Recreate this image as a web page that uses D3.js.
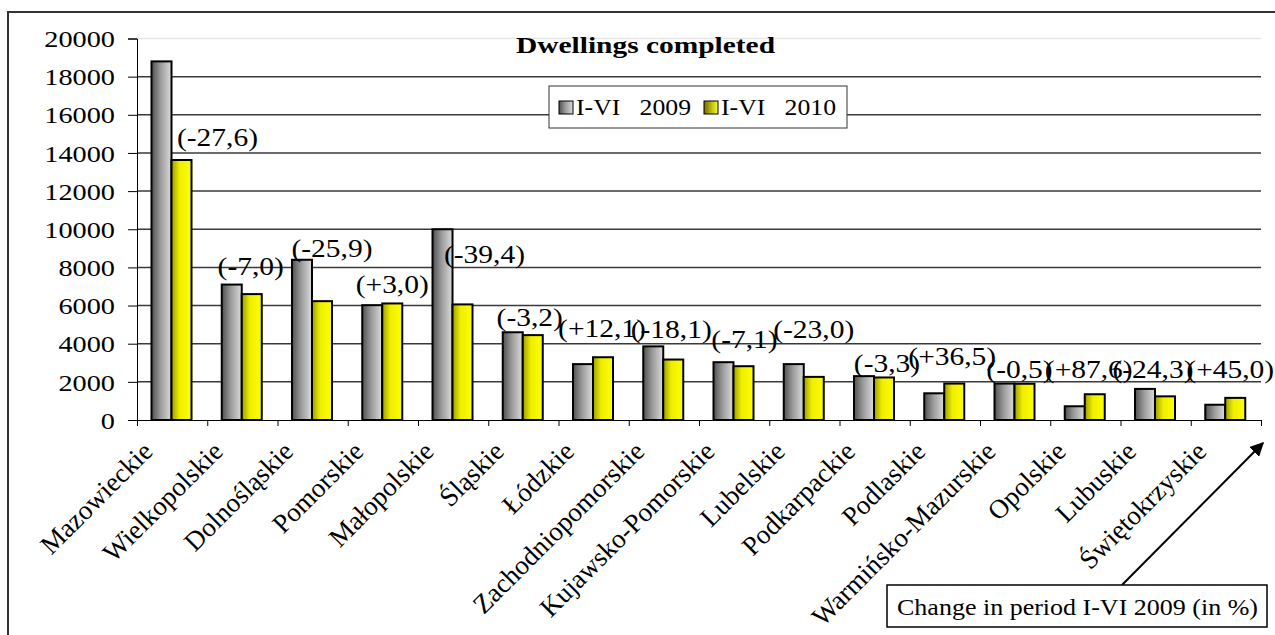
<!DOCTYPE html>
<html>
<head>
<meta charset="utf-8">
<script src="https://cdn.jsdelivr.net/npm/d3@7"></script>
<style>
  body { margin: 0; background: #fff; }
  text { font-family: "Liberation Serif", "Times New Roman", serif; fill: #000; }
</style>
</head>
<body>
<div id="chart"></div>
<script>
// data
var regions = ["Mazowieckie", "Wielkopolskie", "Dolnośląskie", "Pomorskie", "Małopolskie", "Śląskie",
    "Łódzkie", "Zachodniopomorskie", "Kujawsko-Pomorskie", "Lubelskie", "Podkarpackie", "Podlaskie",
    "Warmińsko-Mazurskie", "Opolskie", "Lubuskie", "Świętokrzyskie"];
var done2009 = [18800, 7100, 8400, 6020, 10000, 4600, 2930, 3860, 3030, 2930, 2300, 1400, 1910, 720, 1630, 800];
var done2010 = [13630, 6600, 6230, 6110, 6060, 4450, 3290, 3170, 2820, 2260, 2230, 1910, 1900, 1350, 1240, 1160];
var changes = ["(-27,6)", "(-7,0)", "(-25,9)", "(+3,0)", "(-39,4)", "(-3,2)", "(+12,1)", "(-18,1)",
    "(-7,1)", "(-23,0)", "(-3,3)", "(+36,5)", "(-0,5)", "(+87,6)", "(-24,3)", "(+45,0)"];
var seriesNames = ["I-VI   2009", "I-VI   2010"];
var yTicks = [0, 2000, 4000, 6000, 8000, 10000, 12000, 14000, 16000, 18000, 20000];

// hand moved labels (px nudges from the default spot above the 2010 bar)
var labelNudge = [[36, 0], [-1, -5], [10, -30], [0, 4], [22, -27], [-3, 5], [-1, -6], [-2, -8],
    [1, -4], [0, -25], [3, 9], [-2, -5], [-5, 8], [-6, -2], [-12, -4], [-5, -6]];

var svgWidth = 1275;
var svgHeight = 635;
var SX = 1.18; // horizontal text in the original is stretched sideways

var plot = { left: 137, right: 1261, top: 38.5, bottom: 420 };

var svg = d3.select("#chart").append("svg")
    .attr("width", svgWidth)
    .attr("height", svgHeight);

var defs = svg.append("defs");
function gradient(id, stops) {
    var g = defs.append("linearGradient").attr("id", id)
        .attr("x1", 0).attr("x2", 1).attr("y1", 0).attr("y2", 0);
    stops.forEach(function(s) {
        g.append("stop").attr("offset", s[0]).attr("stop-color", s[1]);
    });
}
gradient("gGrey", [[0, "#505050"], [0.45, "#9a9a9a"], [1, "#dcdcdc"]]);
gradient("gYellow", [[0, "#9c9c00"], [0.4, "#eeee00"], [1, "#ffff00"]]);
gradient("gYellowKey", [[0, "#6e6e00"], [1, "#ffff20"]]);

// outer frame
svg.append("rect")
    .attr("x", 8).attr("y", 12)
    .attr("width", svgWidth).attr("height", svgHeight)
    .attr("fill", "none").attr("stroke", "#333").attr("stroke-width", 2);

// scales
var x = d3.scaleBand().domain(regions).range([plot.left, plot.right]).padding(0);
var xSub = d3.scaleBand().domain(["2009", "2010"]).range([14.5, 54.5]).padding(0);
var xIdx = d3.scaleLinear().domain([0, regions.length]).range([plot.left, plot.right]);
var y = d3.scaleLinear().domain([0, 20000]).range([plot.bottom, plot.top]);

// gridlines
svg.append("g").selectAll("line")
    .data(yTicks.filter(function(d) { return d > 0; }))
    .enter().append("line")
    .attr("x1", plot.left).attr("x2", plot.right)
    .attr("y1", function(d) { return y(d); })
    .attr("y2", function(d) { return y(d); })
    .attr("stroke", function(d) { return d === 20000 ? "#e6e6e6" : "#3a3a3a"; })
    .attr("stroke-width", 1.5);

// y axis
var yAxis = svg.append("g")
    .attr("transform", "translate(" + plot.left + ",0)")
    .call(d3.axisLeft(y).tickValues(yTicks).tickSize(9).tickPadding(0).tickFormat(d3.format("d")));
yAxis.select(".domain").attr("stroke", "#000");
yAxis.selectAll(".tick line").attr("stroke", "#000");
yAxis.selectAll(".tick text")
    .attr("x", -22 / SX)
    .attr("dy", "0.34em")
    .attr("transform", "scale(" + SX + ",1)")
    .style("font-family", "Liberation Serif")
    .style("font-size", "24px");

// x axis, ticks between categories
var xAxis = svg.append("g")
    .attr("transform", "translate(0," + plot.bottom + ")")
    .call(d3.axisBottom(xIdx).tickValues(d3.range(regions.length + 1)).tickSize(6).tickFormat(""));
xAxis.select(".domain").attr("stroke", "#000");
xAxis.selectAll(".tick line").attr("stroke", "#000");

// bars
var groups = svg.append("g").selectAll("g")
    .data(regions)
    .enter().append("g")
    .attr("transform", function(d) { return "translate(" + x(d) + ",0)"; });

groups.append("rect")
    .attr("x", xSub("2009"))
    .attr("width", xSub.bandwidth())
    .attr("y", function(d, i) { return y(done2009[i]); })
    .attr("height", function(d, i) { return y(0) - y(done2009[i]); })
    .attr("fill", "url(#gGrey)")
    .attr("stroke", "#000").attr("stroke-width", 2);

groups.append("rect")
    .attr("x", xSub("2010"))
    .attr("width", xSub.bandwidth())
    .attr("y", function(d, i) { return y(done2010[i]); })
    .attr("height", function(d, i) { return y(0) - y(done2010[i]); })
    .attr("fill", "url(#gYellow)")
    .attr("stroke", "#000").attr("stroke-width", 2);

// change labels
svg.append("g").selectAll("text")
    .data(changes)
    .enter().append("text")
    .attr("transform", function(d, i) {
        var cx = x(regions[i]) + xSub("2010") + xSub.bandwidth() / 2 + labelNudge[i][0];
        var cy = y(done2010[i]) - 14 + labelNudge[i][1];
        return "translate(" + cx + "," + cy + ") scale(" + SX + ",1)";
    })
    .attr("text-anchor", "middle")
    .style("font-size", "25px")
    .text(function(d) { return d; });

// category labels, plain 45 degrees
svg.append("g").selectAll("text")
    .data(regions)
    .enter().append("text")
    .attr("transform", function(d) {
        var cx = x(d) + x.bandwidth() / 2 - 18;
        return "translate(" + cx + "," + (plot.bottom + 33) + ") rotate(-45)";
    })
    .attr("text-anchor", "end")
    .style("font-size", "27px")
    .text(function(d) { return d; });

// title
svg.append("text")
    .attr("x", 516).attr("y", 53)
    .attr("textLength", 259).attr("lengthAdjust", "spacingAndGlyphs")
    .style("font-size", "24px").style("font-weight", "bold")
    .text("Dwellings completed");

// legend
var legend = svg.append("g").attr("transform", "translate(549,86)");
legend.append("rect")
    .attr("width", 298).attr("height", 42)
    .attr("fill", "#fff").attr("stroke", "#333").attr("stroke-width", 1);
var keyFills = ["url(#gGrey)", "url(#gYellowKey)"];
seriesNames.forEach(function(name, i) {
    var lx = 10 + i * 145;
    legend.append("rect")
        .attr("x", lx).attr("y", 15).attr("width", 14).attr("height", 13)
        .attr("fill", keyFills[i]).attr("stroke", "#000").attr("stroke-width", 1);
    legend.append("text")
        .attr("x", lx + 17).attr("y", 29)
        .attr("textLength", 115).attr("lengthAdjust", "spacingAndGlyphs")
        .style("font-size", "24px").style("white-space", "pre")
        .text(name);
});

// note box + arrow
defs.append("marker")
    .attr("id", "arrow").attr("viewBox", "0 0 10 10")
    .attr("refX", 9).attr("refY", 5)
    .attr("markerWidth", 7).attr("markerHeight", 7)
    .attr("orient", "auto")
    .append("path").attr("d", "M0,0 L10,5 L0,10 z").attr("fill", "#000");

svg.append("line")
    .attr("x1", 1122).attr("y1", 585)
    .attr("x2", 1263).attr("y2", 443)
    .attr("stroke", "#000").attr("stroke-width", 2)
    .attr("marker-end", "url(#arrow)");

svg.append("rect")
    .attr("x", 887).attr("y", 585).attr("width", 380).attr("height", 42)
    .attr("fill", "#fff").attr("stroke", "#000").attr("stroke-width", 1.5);
svg.append("text")
    .attr("x", 897).attr("y", 615)
    .attr("textLength", 361).attr("lengthAdjust", "spacingAndGlyphs")
    .style("font-size", "24px")
    .text("Change in period I-VI 2009 (in %)");
</script>
</body>
</html>
